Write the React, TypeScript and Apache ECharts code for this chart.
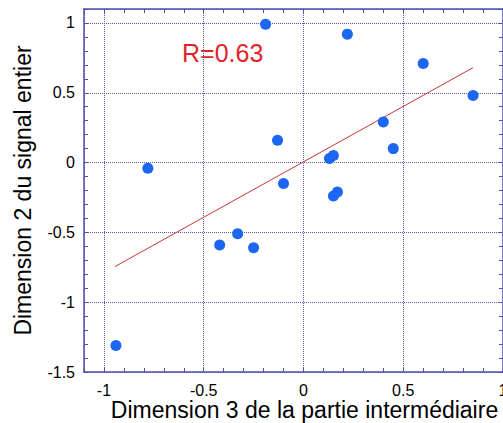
import React, { useEffect, useRef } from "react";
import * as echarts from "echarts";

// Dimension 3 de la partie intermédiaire (x) vs Dimension 2 du signal entier (y)
const xValues = [-0.94, -0.78, -0.42, -0.33, -0.25, -0.19, -0.13, -0.10, 0.13, 0.15, 0.15, 0.17, 0.22, 0.40, 0.45, 0.60, 0.85];
const yValues = [-1.31, -0.04, -0.59, -0.51, -0.61, 0.99, 0.16, -0.15, 0.03, 0.05, -0.24, -0.21, 0.92, 0.29, 0.10, 0.71, 0.48];

// Regression line end points
const fitX = [-0.945, 0.85];
const fitY = [-0.745, 0.68];

const rLabel = "R=0.63";
const xTitle = "Dimension 3 de la partie intermédiaire";
const yTitle = "Dimension 2 du signal entier";

const FONT = "'Liberation Sans', Arial, sans-serif";
const AXIS_COLOR = "#4f4fae";
const GRID_COLOR = "#5656aa";

export default function App() {
  const ref = useRef<HTMLDivElement>(null);

  useEffect(() => {
    if (!ref.current) return;
    const chart = echarts.init(ref.current, undefined, { renderer: "svg" });

    const points = xValues.map((x, i) => [x, yValues[i]]);
    const fit = fitX.map((x, i) => [x, fitY[i]]);

    const tickAxisBase = {
      type: "value" as const,
      axisLabel: { show: false },
      splitLine: { show: false },
      axisTick: { show: true, inside: true, length: 4, lineStyle: { color: AXIS_COLOR, width: 1 } },
    };

    chart.setOption({
      animation: false,
      backgroundColor: "#ffffff",
      grid: { left: 84, top: 9, width: 419, height: 363, containLabel: false, outerBoundsMode: "none" },
      xAxis: [
        {
          type: "value",
          position: "bottom",
          min: -1.1,
          max: 1,
          splitNumber: 5,
          axisLine: { show: true, onZero: false, lineStyle: { color: AXIS_COLOR, width: 1.5 } },
          axisTick: { show: false },
          axisLabel: {
            showMinLabel: false,
            color: "#000",
            fontSize: 16,
            lineHeight: 14,
            fontFamily: FONT,
            margin: 11,
          },
          splitLine: { show: true, lineStyle: { color: GRID_COLOR, type: "dotted", width: 1 } },
          name: xTitle,
          nameLocation: "middle",
          nameGap: 28,
          nameMoveOverlap: false,
          nameTextStyle: { color: "#000", fontSize: 23, lineHeight: 20, fontFamily: FONT, padding: [0, 0, 0, 22] },
        },
        {
          ...tickAxisBase,
          position: "bottom",
          min: -1.1,
          max: 1,
          interval: 0.1,
          axisLine: { show: false, onZero: false },
        },
        {
          ...tickAxisBase,
          position: "top",
          min: -1.1,
          max: 1,
          interval: 0.1,
          axisLine: { show: true, onZero: false, lineStyle: { color: AXIS_COLOR, width: 1.5 } },
        },
      ],
      yAxis: [
        {
          type: "value",
          position: "left",
          min: -1.5,
          max: 1.1,
          interval: 0.5,
          axisLine: { show: true, onZero: false, lineStyle: { color: AXIS_COLOR, width: 1.5 } },
          axisTick: { show: false },
          axisLabel: {
            showMaxLabel: false,
            color: "#000",
            fontSize: 16,
            fontFamily: FONT,
            margin: 9,
          },
          splitLine: { show: true, lineStyle: { color: GRID_COLOR, type: "dotted", width: 1 } },
          name: yTitle,
          nameLocation: "middle",
          nameGap: 50,
          nameTextStyle: { color: "#000", fontSize: 23, fontFamily: FONT },
        },
        {
          ...tickAxisBase,
          position: "left",
          min: -1.5,
          max: 1.1,
          interval: 0.1,
          axisLine: { show: false, onZero: false },
        },
        {
          ...tickAxisBase,
          position: "right",
          min: -1.5,
          max: 1.1,
          interval: 0.1,
          axisLine: { show: true, onZero: false, lineStyle: { color: AXIS_COLOR, width: 1.5 } },
        },
      ],
      graphic: [
        {
          type: "text",
          left: 182,
          top: 40,
          style: { text: rLabel, fill: "#e3232c", fontSize: 25, fontFamily: FONT },
        },
      ],
      series: [
        {
          type: "line",
          xAxisIndex: 0,
          yAxisIndex: 0,
          data: fit,
          symbol: "none",
          lineStyle: { color: "#c9363a", width: 1 },
          z: 2,
        },
        {
          type: "scatter",
          xAxisIndex: 0,
          yAxisIndex: 0,
          data: points,
          symbol: "circle",
          symbolSize: 11,
          itemStyle: { color: "#1c66f2", opacity: 1 },
          z: 3,
        },
      ],
    });

    return () => chart.dispose();
  }, []);

  return (
    <div
      ref={ref}
      style={{ position: "absolute", left: 0, top: 0, width: 503, height: 423 }}
    />
  );
}
